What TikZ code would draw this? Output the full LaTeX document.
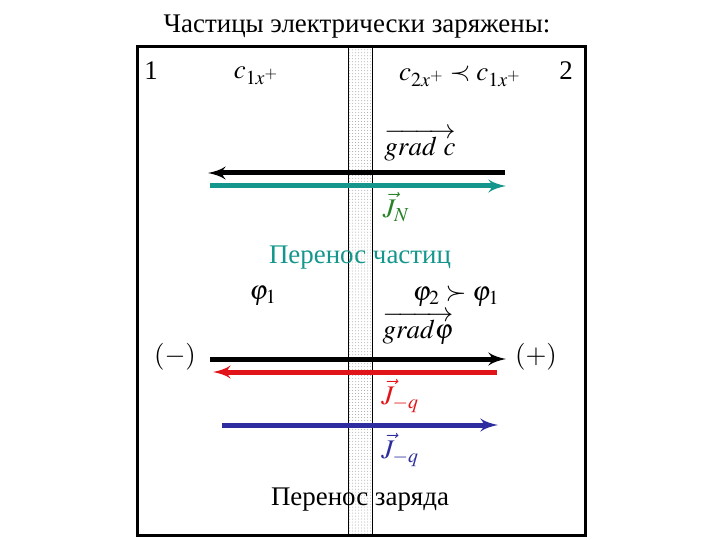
\documentclass[tikz,border=0pt]{standalone}
\usepackage{mathptmx}
\usepackage{fontspec}
\setmainfont{Liberation Serif}
\usepackage{tikz}
\usetikzlibrary{arrows,patterns}
\usepackage{xcolor}
\definecolor{tealflow}{RGB}{20,150,140}
\definecolor{greenflow}{RGB}{40,130,40}
\definecolor{redflow}{RGB}{225,20,25}
\definecolor{blueflow}{RGB}{45,45,160}
\begin{document}
\begin{tikzpicture}[x=1bp,y=-1bp]

\tikzset{lbl/.style = {inner sep=0pt,font=\fontsize{27}{31}\selectfont}}
\tikzset{flow/.style = {line width=5bp,-latex'}}
\useasboundingbox (0,0) rectangle (720,540);

%membrane and box
\draw[line width=0.8bp,pattern=dots,pattern color=gray!70] (348,47) rectangle (372,535);
\draw[line width=3bp] (137,47) rectangle (585,535);

\node[lbl] (title) at (357,27) {Частицы электрически заряжены:};
\node[lbl] (side1) at (151,71) {1};
\node[lbl] (side2) at (566,71) {2};
\node[lbl] (c1) at (256,76) {$c_{1x^+}$};
\node[lbl] (c2) at (460,76) {$c_{2x^+}\prec c_{1x^+}$};
\node[lbl] (gradc) at (420,145) {$\overrightarrow{grad\ c}$};
\node[lbl,text=greenflow] (JN) at (396,207) {$\vec J_N$};
\node[lbl,text=tealflow] (partic) at (360,258) {Перенос частиц};
\node[lbl] (phi1) at (263,296) {$\varphi_1$};
\node[lbl] (phi2) at (456,296) {$\varphi_2\succ\varphi_1$};
\node[lbl] (gradphi) at (418,328) {$\overrightarrow{grad\varphi}$};
\node[lbl] (minus) at (175,357) {$(-)$};
\node[lbl] (plus) at (536,357) {$(+)$};
\node[lbl,text=redflow] (Jr) at (400,396) {$\vec J_{-q}$};
\node[lbl,text=blueflow] (Jb) at (400,450) {$\vec J_{-q}$};
\node[lbl] (charge) at (360,500) {Перенос заряда};

\coordinate (ga) at (505,173);
\coordinate (gb) at (208,173);
\coordinate (ta) at (210,186);
\coordinate (tb) at (506,186);
\coordinate (pa) at (210,359);
\coordinate (pb) at (506,359);
\coordinate (ra) at (497,372);
\coordinate (rb) at (213,372);
\coordinate (ba) at (222,425);
\coordinate (bb) at (498,425);

%arrows
\draw[flow] (ga) to (gb);
\draw[flow,tealflow] (ta) to (tb);
\draw[flow] (pa) to (pb);
\draw[flow,redflow] (ra) to (rb);
\draw[flow,blueflow] (ba) to (bb);
\end{tikzpicture}
\end{document}
